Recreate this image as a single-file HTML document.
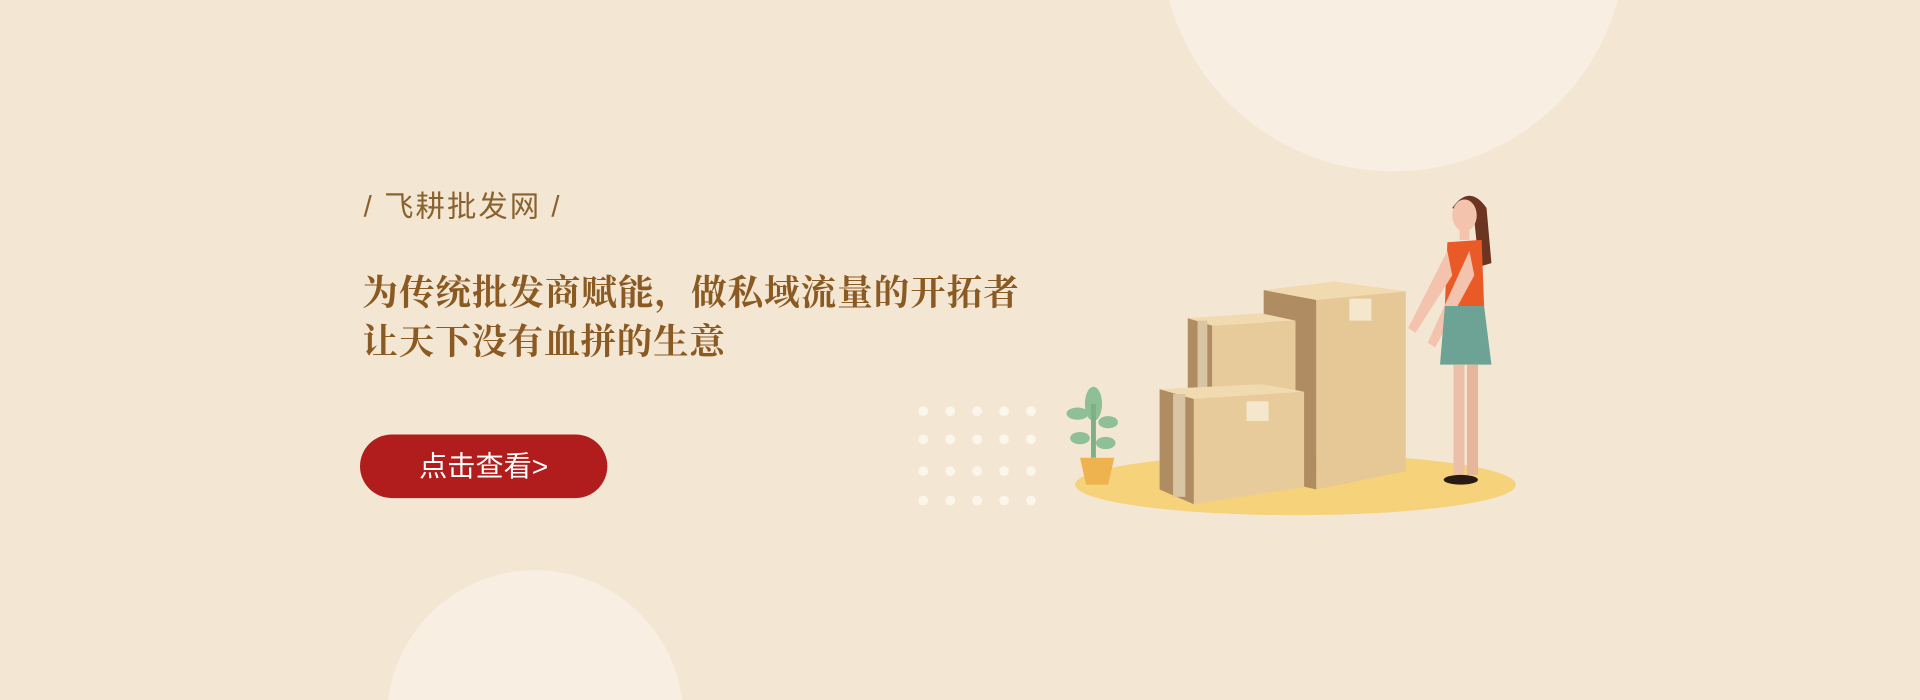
<!DOCTYPE html>
<html><head><meta charset="utf-8"><style>
html,body{margin:0;padding:0;width:1920px;height:700px;overflow:hidden;background:#f3e7d4}
svg{display:block;position:absolute;left:0;top:0}
</style></head><body>
<svg width="1920" height="700" viewBox="0 0 1568 572" preserveAspectRatio="none" xmlns="http://www.w3.org/2000/svg">
<rect width="1568" height="572" fill="#f3e7d4"/>
<circle cx="1138" cy="-50" r="190" fill="#f8efe2"/>
<circle cx="437" cy="587" r="121" fill="#f8efe2"/>
<text x="297" y="177" textLength="160" lengthAdjust="spacing" font-family="Liberation Sans, Noto Sans CJK SC, sans-serif" font-size="24" fill="#8a6230">/ 飞耕批发网 /</text>
<g font-family="Liberation Serif, Noto Serif CJK SC, serif" font-size="29" font-weight="bold" fill="#8b5a23">
<text x="296" y="249" textLength="536" lengthAdjust="spacing">为传统批发商赋能，做私域流量的开拓者</text>
<text x="296" y="289" textLength="296" lengthAdjust="spacing">让天下没有血拼的生意</text>
</g>
<g>
<rect x="294" y="355" width="202" height="52" rx="26" fill="#b11c1c"/>
<text x="395" y="389" text-anchor="middle" font-family="Liberation Sans, Noto Sans CJK SC, sans-serif" font-size="23" fill="#fff">点击查看&gt;</text>
</g>
<g fill="#fbf5ec">
<circle cx="754" cy="336" r="4"/><circle cx="776" cy="336" r="4"/><circle cx="798" cy="336" r="4"/><circle cx="820" cy="336" r="4"/><circle cx="842" cy="336" r="4"/>
<circle cx="754" cy="359" r="4"/><circle cx="776" cy="359" r="4"/><circle cx="798" cy="359" r="4"/><circle cx="820" cy="359" r="4"/><circle cx="842" cy="359" r="4"/>
<circle cx="754" cy="385" r="4"/><circle cx="776" cy="385" r="4"/><circle cx="798" cy="385" r="4"/><circle cx="820" cy="385" r="4"/><circle cx="842" cy="385" r="4"/>
<circle cx="754" cy="409" r="4"/><circle cx="776" cy="409" r="4"/><circle cx="798" cy="409" r="4"/><circle cx="820" cy="409" r="4"/><circle cx="842" cy="409" r="4"/>
</g>
<ellipse cx="1058" cy="396" rx="180" ry="25" fill="#f6d27a"/>
<g>
<polygon points="1032,237 1075,245 1075,400 1032,390" fill="#b08c62"/>
<polygon points="1075,245 1148,238 1148,385 1075,400" fill="#e6c796"/>
<polygon points="1032,237 1090,230 1148,238 1075,245" fill="#f1dab0"/>
<rect x="1102" y="244" width="18" height="18" fill="#f5e7cc"/>
<polygon points="970,260 990,266 990,330 970,325" fill="#b08c62"/>
<polygon points="990,266 1058,262 1058,325 990,332" fill="#e8cb9b"/>
<polygon points="970,260 1030,256 1058,262 990,266" fill="#f1dab0"/>
<rect x="978" y="262" width="8" height="66" fill="#d9c4a4"/>
<polygon points="947,318 975,326 975,412 947,400" fill="#b08c62"/>
<polygon points="975,326 1065,320 1065,398 975,412" fill="#e8cb9b"/>
<polygon points="947,318 1030,314 1065,320 975,326" fill="#f1dab0"/>
<rect x="958" y="322" width="10" height="84" fill="#d9c4a4"/>
<rect x="1018" y="328" width="18" height="16" fill="#f5e7cc"/>
</g>
<g>
<ellipse cx="893" cy="330" rx="7" ry="14" fill="#8fbf94"/>
<ellipse cx="880" cy="338" rx="9" ry="5" fill="#8fbf94"/>
<ellipse cx="905" cy="345" rx="8" ry="5" fill="#8fbf94"/>
<ellipse cx="882" cy="358" rx="8" ry="5" fill="#8fbf94"/>
<ellipse cx="903" cy="362" rx="8" ry="5" fill="#8fbf94"/>
<rect x="891" y="330" width="4" height="44" fill="#7fb085"/>
<polygon points="882,374 910,374 905,396 887,396" fill="#eeb24f"/>
</g>
<g>
<path d="M1186,170 Q1200,150 1214,170 L1218,215 L1208,218 L1204,180 Z" fill="#6b3522"/>
<ellipse cx="1196" cy="176" rx="10" ry="13" fill="#f3c3ad"/>
<rect x="1192" y="186" width="8" height="10" fill="#f3c3ad"/>
<path d="M1182,198 L1210,196 L1212,250 L1180,250 Z" fill="#ea5a26"/>
<path d="M1182,205 L1150,268 L1156,272 L1186,225 Z" fill="#f3c3ad"/>
<path d="M1200,205 L1166,280 L1172,284 L1204,225 Z" fill="#f3c3ad"/>
<path d="M1180,250 L1212,250 L1218,298 L1176,298 Z" fill="#6da395"/>
<rect x="1187" y="298" width="9" height="90" fill="#ecbfa8"/>
<rect x="1198" y="298" width="9" height="90" fill="#e5b59c"/>
<ellipse cx="1193" cy="392" rx="14" ry="4" fill="#2a1a14"/>
</g>
</svg>
</body></html>
